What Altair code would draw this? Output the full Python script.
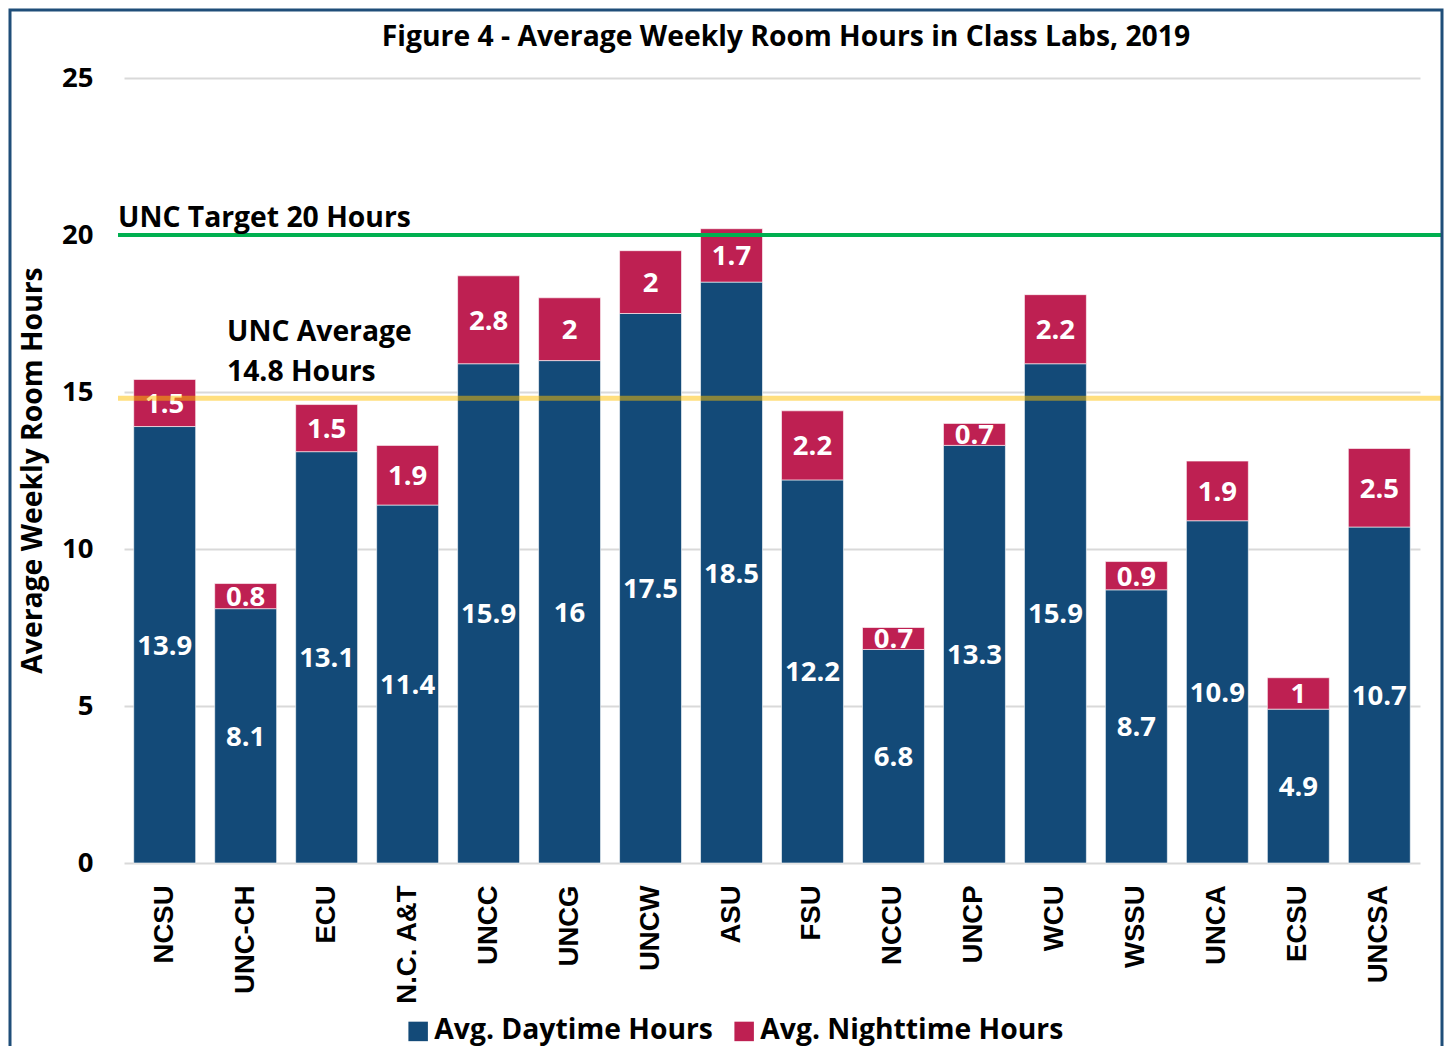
import altair as alt
import pandas as pd

schools = ["NCSU", "UNC-CH", "ECU", "N.C. A&T", "UNCC", "UNCG", "UNCW", "ASU",
           "FSU", "NCCU", "UNCP", "WCU", "WSSU", "UNCA", "ECSU", "UNCSA"]
daytime = [13.9, 8.1, 13.1, 11.4, 15.9, 16, 17.5, 18.5, 12.2, 6.8, 13.3, 15.9, 8.7, 10.9, 4.9, 10.7]
nighttime = [1.5, 0.8, 1.5, 1.9, 2.8, 2, 2, 1.7, 2.2, 0.7, 0.7, 2.2, 0.9, 1.9, 1, 2.5]
series = ["Avg. Daytime Hours", "Avg. Nighttime Hours"]
target = 20
average = 14.8

FONT = "Open Sans"
FS = 28.3
W, H = 1296, 785

rows = []
for s, d, n in zip(schools, daytime, nighttime):
    rows.append({"school": s, "series": series[0], "value": d, "start": 0, "end": d, "mid": d / 2, "order": 0})
    rows.append({"school": s, "series": series[1], "value": n, "start": d, "end": d + n, "mid": d + n / 2, "order": 1})
df = pd.DataFrame(rows)

xenc = alt.X("school:N", sort=schools, title=None,
             scale=alt.Scale(paddingInner=0.235, paddingOuter=0.12),
             axis=alt.Axis(labelAngle=-90, labelFont="Liberation Sans", labelFontSize=27.5,
                           labelFontWeight="bold", labelColor="black", labelPadding=22,
                           labelLimit=0, ticks=False, domain=False, grid=False))

yscale = alt.Scale(domain=[0, 25], nice=False)

bars = alt.Chart(df).mark_bar(stroke="white", strokeWidth=0.6).encode(
    x=xenc,
    y=alt.Y("start:Q", scale=yscale, title="Average Weekly Room Hours",
            axis=alt.Axis(values=[0, 5, 10, 15, 20, 25], labelFont=FONT, labelFontSize=27.5,
                          labelFontWeight="bold", labelColor="black", labelPadding=31,
                          ticks=False, domain=False, gridColor="#D9D9D9", gridWidth=2,
                          titleFont=FONT, titleFontSize=FS, titleFontWeight="bold",
                          titleColor="black", titleX=-91, titleY=392, titleAngle=-90,
                          titleAlign="center", titleBaseline="middle", titleLimit=0)),
    y2="end:Q",
    color=alt.Color("series:N", sort=series,
                    scale=alt.Scale(domain=series, range=["#134A78", "#BE2052"]),
                    legend=alt.Legend(title=None, orient="none", direction="horizontal",
                                      legendX=280, legendY=939, symbolType="square",
                                      symbolSize=380, symbolStrokeWidth=0, labelFont=FONT,
                                      labelFontSize=FS, labelFontWeight="bold",
                                      labelColor="black", columnPadding=17, labelOffset=2,
                                      labelLimit=0)),
)

labels = alt.Chart(df).mark_text(color="white", font=FONT, fontSize=27.5, fontWeight="bold",
                                 baseline="middle", dy=2).encode(
    x=alt.X("school:N", sort=schools),
    y=alt.Y("mid:Q", scale=yscale),
    text=alt.Text("value:Q"),
)

ref = pd.DataFrame({"target": [target], "average": [average],
                    "t_label": ["UNC Target 20 Hours"],
                    "a1": ["UNC Average"], "a2": ["14.8 Hours"]})

green = alt.Chart(ref).mark_rule(color="#00B050", strokeWidth=4).encode(
    y=alt.Y("target:Q", scale=yscale), x=alt.value(-6), x2=alt.value(W + 21))
yellow = alt.Chart(ref).mark_rule(color="#FFC000", strokeWidth=5, opacity=0.5).encode(
    y=alt.Y("average:Q", scale=yscale), x=alt.value(-6), x2=alt.value(W + 21))

t_text = alt.Chart(ref).mark_text(align="left", baseline="alphabetic", font=FONT, fontSize=FS,
                                  fontWeight="bold", color="black", dy=-8).encode(
    x=alt.value(-6), y=alt.Y("target:Q", scale=yscale), text="t_label:N")
a1_text = alt.Chart(ref).mark_text(align="left", baseline="alphabetic", font=FONT, fontSize=FS,
                                   fontWeight="bold", color="black", dy=-57).encode(
    x=alt.value(103), y=alt.Y("average:Q", scale=yscale), text="a1:N")
a2_text = alt.Chart(ref).mark_text(align="left", baseline="alphabetic", font=FONT, fontSize=FS,
                                   fontWeight="bold", color="black", dy=-17).encode(
    x=alt.value(103), y=alt.Y("average:Q", scale=yscale), text="a2:N")

title_df = pd.DataFrame({"t": ["Figure 4 - Average Weekly Room Hours in Class Labs, 2019"]})
title = alt.Chart(title_df).mark_text(font=FONT, fontSize=FS, fontWeight="bold", color="black",
                                      baseline="middle", align="center").encode(
    x=alt.value(662), y=alt.value(-40), text="t:N")

frame = alt.Chart(title_df).mark_rect(fill=None, stroke="#1F4E79", strokeWidth=3).encode(
    x=alt.value(-114), x2=alt.value(W + 22), y=alt.value(-68), y2=alt.value(H + 200))

chart = alt.layer(bars, labels, green, yellow, t_text, a1_text, a2_text, title, frame).properties(
    width=W, height=H,
    autosize=alt.AutoSizeParams(type="none"),
    padding={"left": 116, "top": 70, "right": 24, "bottom": 183},
).configure_view(stroke=None)

chart.save("out.html", embed_options={"renderer": "svg", "actions": False})
